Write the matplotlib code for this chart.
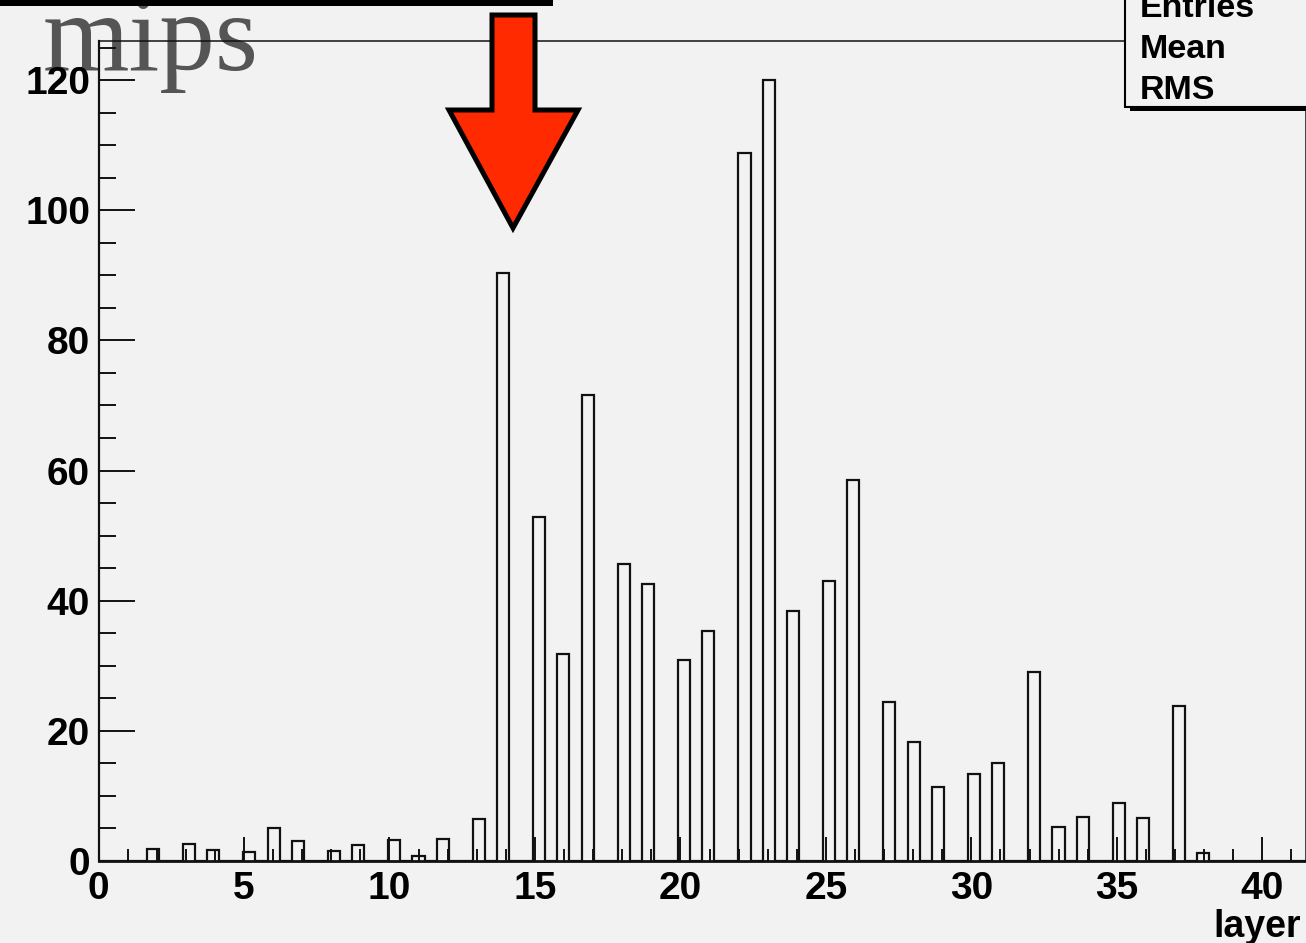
import numpy as np
import matplotlib
matplotlib.use("Agg")
import matplotlib.pyplot as plt
from matplotlib.patches import Polygon, Rectangle
from matplotlib.ticker import MultipleLocator

# energy deposited per layer (mips)
layers = list(range(1, 41))
mips = [0.0, 1.84, 2.56, 1.69, 1.43, 5.02, 3.12, 1.49, 2.46, 3.23,
        0.77, 3.33, 6.5, 90.4, 52.9, 31.8, 71.6, 45.6, 42.6, 30.9,
        35.3, 108.8, 120.0, 38.4, 43.0, 58.5, 24.4, 18.3, 11.4, 13.4,
        15.0, 29.0, 5.17, 6.8, 8.9, 6.6, 23.8, 1.18, 0.0, 0.0]

x_ticks = [0, 5, 10, 15, 20, 25, 30, 35, 40]
y_ticks = [0, 20, 40, 60, 80, 100, 120]
stat_labels = ["Entries", "Mean", "RMS"]

# histogram binning
n_bins = 100
x_lo, x_hi = 0.0, 41.5
y_hi = 1.05 * max(mips)

W, H = 1306, 943
BG = "#f2f2f2"

fig = plt.figure(figsize=(W / 100, H / 100), dpi=100, facecolor=BG)


def fx(x):
    return x / W


def fy(y):
    return 1 - y / H


ax = fig.add_axes([fx(98.5), fy(861), (1306 - 98.5) / W, (861 - 41) / H])
ax.set_facecolor("none")

edges = np.linspace(x_lo, x_hi, n_bins + 1)
counts, _ = np.histogram(layers, bins=edges, weights=mips)
ax.stairs(counts, edges, color="#111111", linewidth=1.6, baseline=0)

ax.set_xlim(x_lo, x_hi)
ax.set_ylim(0, y_hi)

ax.xaxis.set_major_locator(MultipleLocator(5))
ax.xaxis.set_minor_locator(MultipleLocator(1))
ax.yaxis.set_major_locator(MultipleLocator(20))
ax.yaxis.set_minor_locator(MultipleLocator(5))
ax.set_xticks(x_ticks)
ax.set_yticks(y_ticks)

tick_font = dict(family=["Liberation Sans", "DejaVu Sans"], weight="bold", size=28)
ax.set_xticklabels([str(t) for t in x_ticks], fontdict=tick_font)
ax.set_yticklabels([str(t) for t in y_ticks], fontdict=tick_font)

ax.tick_params(axis="x", which="major", direction="in", length=17, width=1.4,
               pad=7, color="#111111")
ax.tick_params(axis="x", which="minor", direction="in", length=8.5, width=1.4,
               color="#111111")
ax.tick_params(axis="y", which="major", direction="in", length=26, width=1.4,
               pad=6, color="#111111")
ax.tick_params(axis="y", which="minor", direction="in", length=12.5, width=1.4,
               color="#111111")

for side, lw in (("left", 1.6), ("bottom", 2.0), ("top", 1.1), ("right", 1.1)):
    ax.spines[side].set_linewidth(lw)
    ax.spines[side].set_color("#111111")

# axis titles
fig.text(fx(1301), fy(937), "layer", ha="right", va="baseline",
         family=["Liberation Sans", "DejaVu Sans"], weight="bold", size=27)
fig.text(fx(43), fy(70), "mips", ha="left", va="baseline",
         family=["Liberation Serif", "DejaVu Serif"], size=80,
         color="#555555", zorder=-1)

# title box edge
fig.add_artist(Rectangle((fx(-10), fy(5.5)), fx(563), 6.5 / H,
                         transform=fig.transFigure, facecolor="black",
                         edgecolor="none", zorder=5))

# statistics box
fig.add_artist(Rectangle((fx(1125), fy(107)), fx(300), 200 / H,
                         transform=fig.transFigure, facecolor=BG,
                         edgecolor="black", linewidth=1.5, zorder=5))
fig.add_artist(Rectangle((fx(1130), fy(111)), fx(200), 3.5 / H,
                         transform=fig.transFigure, facecolor="black",
                         edgecolor="none", zorder=5))
for i, lab in enumerate(stat_labels):
    fig.text(fx(1140), fy(17 + 41 * i), lab, ha="left", va="baseline",
             family=["Liberation Sans", "DejaVu Sans"], weight="bold",
             size=24.5, zorder=6)

# arrow marking the layer of interest
arrow_px = [(492, 15), (535, 15), (535, 110), (578, 110), (513, 228),
            (449, 110), (492, 110)]
fig.add_artist(Polygon([(fx(x), fy(y)) for x, y in arrow_px], closed=True,
                       transform=fig.transFigure, facecolor="#ff2a00",
                       edgecolor="black", linewidth=3.6, joinstyle="miter",
                       zorder=7))

fig.savefig("out.png", dpi=100, facecolor=BG)
